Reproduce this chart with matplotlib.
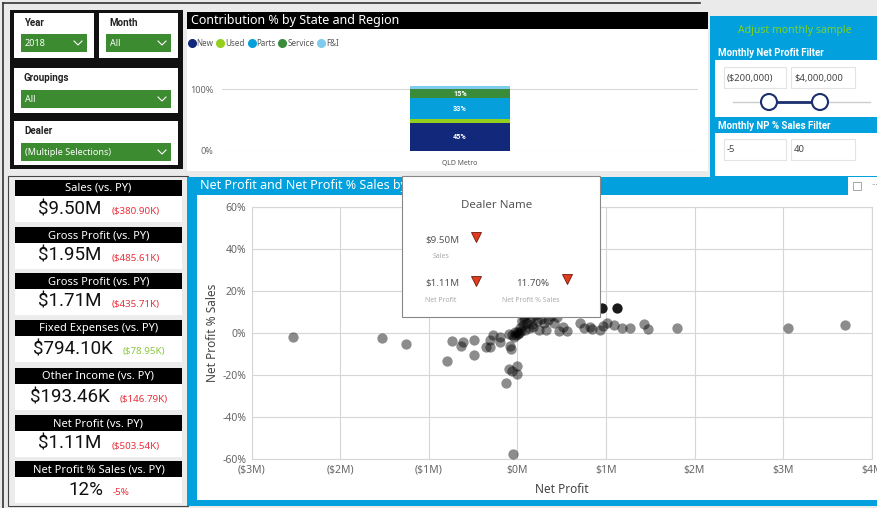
import matplotlib
matplotlib.use('Agg')
import matplotlib.pyplot as plt
from matplotlib.patches import Rectangle, Circle
from matplotlib.lines import Line2D
from matplotlib.offsetbox import TextArea, HPacker, AnnotationBbox
from matplotlib.ticker import FuncFormatter
import numpy as np

plt.rcParams['font.family'] = ['Noto Sans', 'DejaVu Sans']

W, H = 878, 508

# ---- data ----
slicer_titles = ['Year', 'Month', 'Groupings', 'Dealer']
slicer_values = ['2018', 'All', 'All', '(Multiple Selections)']

contrib_region = ['QLD Metro']
contrib_series = ['New', 'Used', 'Parts', 'Service', 'F&I']
contrib_pct = [45, 7, 33, 15, 5]
contrib_colors = ['#12287a', '#93cf1c', '#05a0dc', '#3a8c3a', '#7fcbee']

filter_np = ['($200,000)', '$4,000,000']
filter_np_pct = ['-5', '40']

kpi_titles = ['Sales (vs. PY)', 'Gross Profit (vs. PY)', 'Gross Profit (vs. PY)',
              'Fixed Expenses (vs. PY)', 'Other Income (vs. PY)',
              'Net Profit (vs. PY)', 'Net Profit % Sales (vs. PY)']
kpi_values = ['$9.50M', '$1.95M', '$1.71M', '$794.10K', '$193.46K', '$1.11M', '12%']
kpi_deltas = ['($380.90K)', '($485.61K)', '($435.71K)', '($78.95K)',
              '($146.79K)', '($503.54K)', '-5%']
kpi_good = [False, False, False, True, False, False, False]

# dealers: net profit ($M) and net profit % sales
net_profit_m = [-2.53, -1.53, -1.26, -0.74, -0.79, -0.64, -0.61, -0.49, -0.49, -0.35,
                -0.31, -0.31, -0.27, -0.20, -0.20, -0.09, -0.08, -0.07, -0.10, -0.06,
                -0.01, 0.00, -0.13, -0.05, -0.04, -0.02, -0.06, 0.00, 0.03, 0.05,
                0.09, 0.11, 0.15, 0.18, 0.22, 0.24, 0.30, 0.32, 0.35, 0.41,
                0.47, 0.52, 0.56, 0.71, 0.75, 0.82, 0.84, 0.93, 0.97, 1.01,
                1.09, 1.18, 1.27, 1.43, 1.47, 1.80, 3.05, 3.70,
                0.06, 0.08, 0.12, 0.20, 0.27, 0.13, 0.02, 0.04, 0.25, 0.38,
                0.45, 0.07, 0.16, -0.03, 0.01]
np_pct_sales = [-2.0, -2.4, -5.2, -3.7, -13.4, -6.2, -4.4, -3.4, -10.7, -6.6,
                -6.9, -3.4, -0.8, -2.0, -4.5, -0.4, -6.2, -7.6, -17.0, -18.2,
                -15.7, -19.8, -23.7, -57.8, -1.8, -1.0, -0.9, 0.6, 2.2, 5.4,
                1.4, 4.6, 7.0, 3.0, 5.4, 1.4, 4.6, 1.4, 6.2, 4.6,
                1.1, 3.0, 1.1, 4.9, 2.2, 2.7, 1.8, 1.4, 3.3, 4.9,
                3.8, 2.5, 2.5, 4.3, 1.8, 2.5, 2.4, 3.7,
                3.5, 8.0, 9.0, 8.5, 6.5, 2.5, -0.2, 1.0, 9.5, 8.0,
                7.5, 6.5, 4.0, 0.2, -0.5]
sel_net_profit_m = [0.96, 1.12]
sel_np_pct = [11.8, 11.7]

tip_values = ['$9.50M', '$1.11M', '11.70%']
tip_labels = ['Sales', 'Net Profit', 'Net Profit % Sales']

GREEN = '#3d8b31'
BLUE = '#03a0de'
BOLD = dict(family=['Roboto', 'DejaVu Sans'], fontweight='bold')

fig = plt.figure(figsize=(W / 100, H / 100), dpi=100)
fig.patch.set_facecolor('#eaeaea')

bg = fig.add_axes([0, 0, 1, 1])
bg.set_xlim(0, W)
bg.set_ylim(H, 0)
bg.axis('off')


def box(x0, y0, x1, y1, fc, ec='none', lw=0, ax=bg, z=1):
    ax.add_patch(Rectangle((x0, y0), x1 - x0, y1 - y0, fc=fc, ec=ec, lw=lw, zorder=z))


def px_axes(x0, y0, x1, y1):
    return fig.add_axes([x0 / W, 1 - y1 / H, (x1 - x0) / W, (y1 - y0) / H])


def chevron(x, y):
    bg.plot([x - 4, x, x + 4], [y - 2, y + 2, y - 2], color='white', lw=0.8, zorder=3)


# outer frame line
bg.plot([3, 700], [3, 3], color='#333', lw=1.2)
bg.plot([3, 3], [3, 508], color='#333', lw=1.2)

# ---- slicers ----
box(10, 10, 183, 169, '#111')
slicer_boxes = [(14, 13, 94, 58), (99, 13, 178, 58), (14, 68, 178, 113), (14, 121, 178, 165)]
drop_boxes = [(21, 34, 87, 52), (106, 34, 171, 52), (21, 90, 171, 108), (21, 143, 171, 161)]
for (bx0, by0, bx1, by1), (dx0, dy0, dx1, dy1), t, v in zip(slicer_boxes, drop_boxes,
                                                          slicer_titles, slicer_values):
    box(bx0, by0, bx1, by1, 'white', z=2)
    bg.text(bx0 + 10, by0 + 10, t, fontsize=7, color='#222', va='center', zorder=3, **BOLD)
    box(dx0, dy0, dx1, dy1, GREEN, z=2)
    bg.text(dx0 + 4, (dy0 + dy1) / 2 + 0.5, v, fontsize=6.5, color='white', va='center', zorder=3)
    chevron(dx1 - 9, (dy0 + dy1) / 2)

# ---- contribution chart panel ----
box(187, 12, 708, 171, 'white')
box(187, 12, 708, 29, 'black', z=2)
bg.text(191, 20.5, 'Contribution % by State and Region', color='white', fontsize=9,
        va='center', zorder=3)

axb = px_axes(222, 70, 698, 150.7)
bottom = 0
for name, val, col in zip(contrib_series, contrib_pct, contrib_colors):
    axb.bar(contrib_region, [val], bottom=[bottom], width=0.212, color=col, zorder=3, label=name)
    if val >= 10:
        axb.text(0, bottom + val / 2, f'{val}%', color='white', fontsize=5.2,
                 ha='center', va='center', zorder=4, **BOLD)
    bottom += val
axb.set_xlim(-0.5, 0.5)
axb.set_ylim(0, 131.4)
axb.set_yticks([0, 100])
axb.yaxis.set_major_formatter(FuncFormatter(lambda v, p: f'{v:.0f}%'))
axb.grid(axis='y', color='#d9d9d9', lw=0.8)
for s in axb.spines.values():
    s.set_visible(False)
axb.tick_params(axis='y', length=0, pad=6, labelsize=6.5, labelcolor='#666')
axb.tick_params(axis='x', length=0, pad=7, labelsize=5, labelcolor='#555')
axb.legend(loc='center left', bbox_to_anchor=(189 / W, 1 - 43 / H), bbox_transform=fig.transFigure,
           ncol=5, frameon=False, fontsize=5.8, labelcolor='#555',
           handles=[Line2D([], [], marker='o', ls='', color=c, markersize=5.5) for c in contrib_colors],
           labels=contrib_series, handlelength=0.7, handletextpad=0.25, columnspacing=0.5,
           borderpad=0, borderaxespad=0)

# ---- monthly filter panel ----
box(710, 16, 878, 178, BLUE)
bg.text(795, 31, 'Adjust monthly sample', color='#7ed321', fontsize=7.5, ha='center', va='center')
bg.text(718, 53, 'Monthly Net Profit Filter', color='white', fontsize=7, va='center', **BOLD)
box(715, 60, 878, 117, 'white', z=2)
bg.text(718, 126, 'Monthly NP % Sales Filter', color='white', fontsize=7, va='center', **BOLD)
box(715, 133, 878, 176, 'white', z=2)
for i, (a, b) in enumerate([filter_np, filter_np_pct]):
    yy = 67 if i == 0 else 139
    box(724, yy, 786, yy + 21, 'white', ec='#e3e3e3', lw=0.8, z=3)
    box(791, yy, 855, yy + 21, 'white', ec='#e3e3e3', lw=0.8, z=3)
    bg.text(727, yy + 11, a, fontsize=6.8, color='#444', va='center', zorder=4)
    bg.text(794, yy + 11, b, fontsize=6.8, color='#444', va='center', zorder=4)
bg.plot([733, 870], [102, 102], color='#cccccc', lw=1, zorder=3)
bg.plot([769, 820], [102, 102], color='#1c2f6e', lw=2, zorder=4)
for cx in (769, 820):
    bg.add_patch(Circle((cx, 102), 8, fc='white', ec='#1c2f6e', lw=1.5, zorder=5))

# ---- KPI cards ----
box(8, 176, 188, 506, '#ececec', ec='#444', lw=0.8)
header_tops = [180, 227, 273, 320, 368, 415, 461]
for top, t, v, d, good in zip(header_tops, kpi_titles, kpi_values, kpi_deltas, kpi_good):
    box(15, top, 182, top + 16, 'black', z=2)
    box(15, top + 16, 182, top + 42, 'white', z=2)
    bg.text(98.5, top + 8.5, t, color='white', fontsize=8, ha='center', va='center', zorder=3)
    pack = HPacker(children=[
        TextArea(v, textprops=dict(fontsize=13.5, color='#111', family='Roboto')),
        TextArea(d, textprops=dict(fontsize=7, color='#8cc63f' if good else '#e8313c'))],
        align='baseline', sep=7, pad=0)
    bg.add_artist(AnnotationBbox(pack, (99, top + 29), xycoords='data', frameon=False,
                                 box_alignment=(0.5, 0.5), pad=0, zorder=4))

# ---- scatter panel ----
box(187, 177, 878, 506, BLUE)
box(197, 195, 878, 500, 'white', z=2)
box(848, 177, 878, 195, 'white', z=2)
bg.text(200, 186, 'Net Profit and Net Profit % Sales by Dealer', color='white', fontsize=9,
        va='center', zorder=3)
box(853, 182, 861, 190, 'none', ec='#999', lw=0.6, z=3)
bg.text(871, 186, '···', color='#666', fontsize=6, va='center', zorder=3)

axs = px_axes(251.7, 206.7, 871.7, 459)
axs.scatter(net_profit_m, np_pct_sales, s=55, color='black', alpha=0.45, lw=0, zorder=3)
axs.scatter(sel_net_profit_m, sel_np_pct, s=55, color='#1a1a1a', lw=0, zorder=4)
axs.set_xlim(-3, 4)
axs.set_ylim(-60, 60)
axs.set_xticks(np.arange(-3, 5))
axs.set_yticks(np.arange(-60, 61, 20))
axs.xaxis.set_major_formatter(FuncFormatter(
    lambda v, p: f'(${abs(v):.0f}M)' if v < 0 else f'${v:.0f}M'))
axs.yaxis.set_major_formatter(FuncFormatter(lambda v, p: f'{v:.0f}%'))
axs.grid(color='#d6d6d6', lw=0.8, zorder=0)
for s in axs.spines.values():
    s.set_color('#d6d6d6')
axs.tick_params(length=0, labelsize=7.5, labelcolor='#666')
axs.tick_params(axis='y', pad=4)
axs.tick_params(axis='x', pad=4)
axs.set_xlabel('Net Profit', fontsize=8.5, color='#444', va='center')
axs.set_ylabel('Net Profit % Sales', fontsize=8.5, color='#444', va='center')
axs.xaxis.set_label_coords(0.5, -0.119)
axs.yaxis.set_label_coords(-0.064, 0.5)

# ---- tooltip overlay ----
ov = fig.add_axes([0, 0, 1, 1])
ov.set_xlim(0, W)
ov.set_ylim(H, 0)
ov.axis('off')
ov.patch.set_alpha(0)
box(402, 176, 600, 317, 'white', ec='#888', lw=0.8, ax=ov)
ov.text(497, 205, 'Dealer Name', fontsize=8.3, color='#555', ha='center', va='center')
tip_pos = [(425, 240, 476, 237, 441), (425, 283, 476, 281, 441), (516, 283, 567, 279, 531)]
for (tx, ty, mx, my, lx), val, lab in zip(tip_pos, tip_values, tip_labels):
    ov.text(tx, ty, val, fontsize=7, color='#555', va='center')
    ov.plot(mx, my, marker='v', ms=7, color='#e23b1d', mec='#6b1a0d', mew=0.6)
    ov.text(lx, ty + 17, lab, fontsize=5, color='#aaa', va='center', ha='center')

fig.savefig('out.png', dpi=100, facecolor=fig.get_facecolor())
